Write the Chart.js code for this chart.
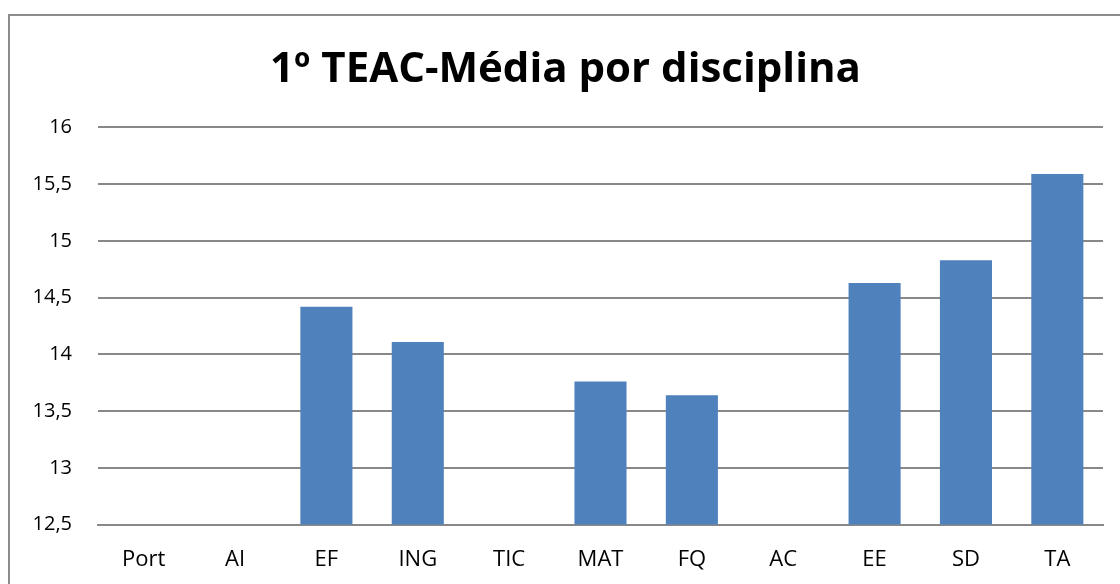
<!DOCTYPE html>
<html>
<head>
<meta charset="utf-8">
<script src="https://cdn.jsdelivr.net/npm/chart.js@4"></script>
<style>
  body { margin: 0; background: #fff; }
  #wrap { position: absolute; left: 0; top: 0; width: 1120px; height: 584px; }
  #frame { position: absolute; left: 8px; top: 14px; width: 1130px; height: 600px; border: 2px solid #8c8c8c; pointer-events: none; }
</style>
</head>
<body>
<div id="wrap"><canvas id="grafico"></canvas></div>
<div id="frame"></div>
<script>
const disciplinas = ['Port', 'AI', 'EF', 'ING', 'TIC', 'MAT', 'FQ', 'AC', 'EE', 'SD', 'TA'];
const medias = [null, null, 14.42, 14.11, null, 13.76, 13.64, null, 14.63, 14.83, 15.59];
const tituloGrafico = '1º TEAC-Média por disciplina';

const fonte = "'Open Sans', 'Noto Sans', sans-serif";

new Chart(document.getElementById('grafico'), {
  type: 'bar',
  data: {
    labels: disciplinas,
    datasets: [{
      label: 'Média',
      data: medias,
      backgroundColor: '#4F81BD',
      borderWidth: 0,
      barPercentage: 0.57,
      categoryPercentage: 1
    }]
  },
  options: {
    responsive: true,
    maintainAspectRatio: false,
    animation: false,
    layout: { padding: { left: 28, right: 17, top: 0, bottom: -11 } },
    plugins: {
      legend: { display: false },
      tooltip: { enabled: false },
      title: {
        display: true,
        text: tituloGrafico,
        color: '#000',
        font: { family: fonte, size: 42, weight: 'bold' },
        padding: { top: 45, bottom: 32 }
      }
    },
    scales: {
      x: {
        grid: { display: false, drawTicks: false },
        border: { display: true, color: '#888', width: 2 },
        ticks: { color: '#000', font: { family: fonte, size: 22 }, padding: 22, maxRotation: 0 }
      },
      y: {
        min: 12.5,
        max: 16,
        afterFit: function (s) { s.width = 70; },
        grid: { color: '#888', lineWidth: 2, drawTicks: false },
        border: { display: false },
        ticks: {
          stepSize: 0.5,
          color: '#000',
          padding: 26,
          font: { family: fonte, size: 20 },
          callback: function (v) { return String(v).replace('.', ','); }
        }
      }
    }
  }
});
</script>
</body>
</html>
